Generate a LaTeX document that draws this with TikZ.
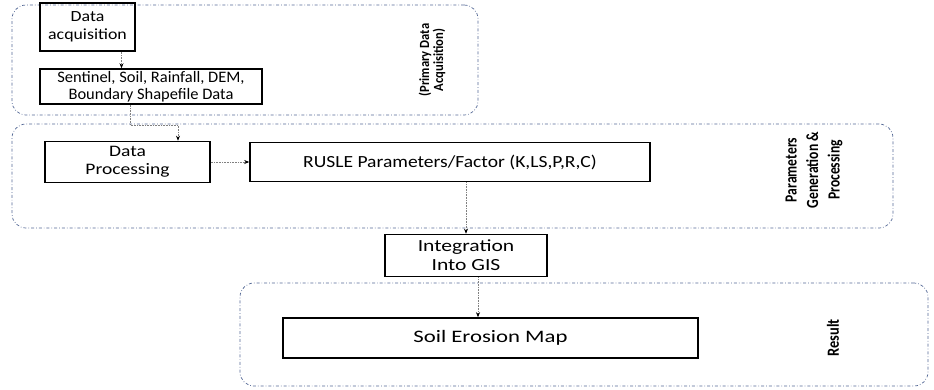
\documentclass[tikz,border=0pt]{standalone}
\usepackage{fontspec}
\setmainfont{Carlito}
\usetikzlibrary{arrows.meta}
\definecolor{grpblue}{RGB}{85,105,150}
\newcommand{\wide}[1]{\addfontfeature{FakeStretch=#1}}
\begin{document}
\begin{tikzpicture}[x=1pt,y=-1pt,
        box/.style={draw=black, line width=1.6pt, inner sep=0pt, align=center,
            font=\fontsize{16}{18}\selectfont\wide{1.22}},
        group/.style={draw=grpblue, line width=0.7pt, dash dot, rounded corners=14pt,
            inner sep=0pt},
        side/.style={rotate=90, align=center, inner sep=0pt},
        arr/.style={draw=gray, line width=0.6pt, densely dotted,
            -{Stealth[black,length=5pt,width=4pt]}}]
            \useasboundingbox (0,0) rectangle (934,389);

            % groups
            \node[group, minimum width=466, minimum height=110] (g-acq) at (245,60) {};
            \node[group, minimum width=881, minimum height=104] (g-par) at (452.5,176) {};
            \node[group, minimum width=688, minimum height=103] (g-res) at (584,334.5) {};

            % steps
            \node[box, minimum width=95, minimum height=48,
                font=\fontsize{15.5}{18.5}\selectfont\wide{1.15}] (acq) at (87.5,27) {Data\\acquisition};
            \node[box, minimum width=222, minimum height=35,
                font=\fontsize{16}{16.5}\selectfont\wide{1.03}] (sent) at (151,86.5) {Sentinel, Soil, Rainfall, DEM,\\Boundary Shapefile Data};
            \node[box, minimum width=165, minimum height=41] (proc) at (127.5,162) {Data\\Processing};
            \node[box, minimum width=400, minimum height=39,
                font=\fontsize{17}{20}\selectfont\wide{1.15}] (rusle) at (450,162) {RUSLE Parameters/Factor (K,LS,P,R,C)};
            \node[box, minimum width=162, minimum height=42,
                font=\fontsize{17}{19}\selectfont\wide{1.27}] (integ) at (466,255.5) {Integration\\Into GIS};
            \node[box, minimum width=415, minimum height=40,
                font=\fontsize{17.5}{20}\selectfont\wide{1.3}] (map) at (490.5,338) {Soil Erosion Map};

            % side labels
            \node[side, font=\fontsize{14}{14}\selectfont\bfseries\wide{0.9}] (l-acq) at (432,60) {(Primary Data\\Acquisition)};
            \node[side, font=\fontsize{17}{21.5}\selectfont\bfseries\wide{0.8}] (l-par) at (814,170) {Parameters\\Generation \&\\Processing};
            \node[side, font=\fontsize{17}{20}\selectfont\bfseries\wide{0.85}] (l-res) at (833,338) {Result};

            \coordinate (elbow) at (178,125);

            \draw[arr] ([xshift=34pt]acq.south) -- ([xshift=34pt]acq.south |- sent.north);
            \draw[arr] ([xshift=-21pt]sent.south) |- (elbow) -- (elbow |- proc.north);
            \draw[arr] (proc) -- (rusle);
            \draw[arr] (integ.north |- rusle.south) -- (integ.north);
            \draw[arr] ([xshift=12pt]integ.south) -- ([xshift=12pt]integ.south |- map.north);
        \end{tikzpicture}
\end{document}
